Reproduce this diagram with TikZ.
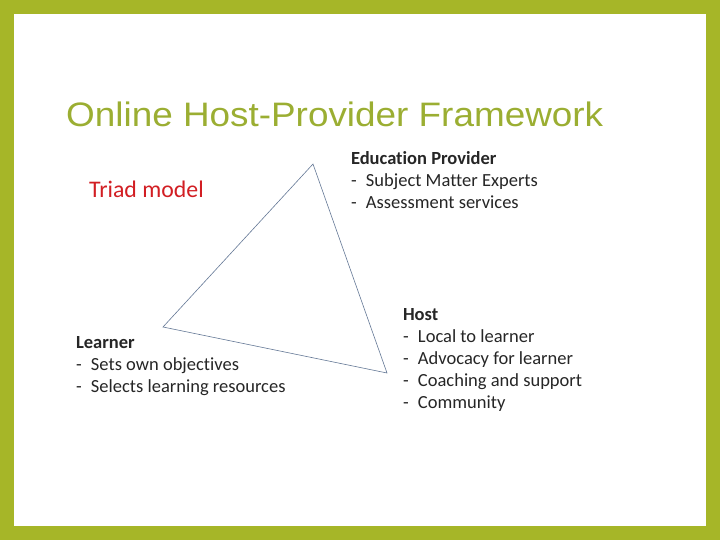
\documentclass[tikz,border=0pt]{standalone}
\usepackage{fontspec}
\setmainfont{Carlito}[Ligatures=NoCommon]
\newfontfamily\titlefont{Liberation Sans}
\definecolor{frame}{RGB}{166,182,40}
\definecolor{titlegreen}{RGB}{155,174,50}
\definecolor{triad}{RGB}{210,30,35}
\definecolor{edge}{RGB}{100,120,150}
\tikzset{
  roletext/.style={anchor=base west, inner sep=0pt, outer sep=0pt, align=left,
    font=\fontsize{18.5pt}{22pt}\selectfont, text=black!85},
  side/.style={draw=edge, line width=0.6pt, line join=miter}
}
\newcommand{\itm}[1]{\makebox[15pt][l]{-}#1}
\begin{document}
\begin{tikzpicture}[x=1pt,y=-1pt]
  \useasboundingbox (0,0) rectangle (720,540);
  \fill[frame] (0,0) rectangle (720,540);
  \fill[white] (14,14) rectangle (706,526);
  \node[anchor=base west, inner sep=0pt, text=titlegreen] (title) at (66,127)
    {\scalebox{1}[0.92]{\resizebox{537pt}{!}{\titlefont\fontsize{33pt}{36pt}\selectfont Online Host-Provider Framework}}};
  \node[anchor=base west, inner sep=0pt, text=triad, font=\fontsize{23.8pt}{26pt}\selectfont] (triad) at (89,198) {Triad model};
  \coordinate (prov) at (313,164);
  \coordinate (learn) at (163,327);
  \coordinate (host) at (387,373);
  \draw[side] (prov) -- (learn) -- (host) -- cycle;
  % anchor at the baseline of the last line
  \node[roletext] (provtext) at (351,209)
    {\textbf{Education Provider}\\ \itm{Subject Matter Experts}\\ \itm{Assessment services}};
  \node[roletext] (learntext) at (76,392)
    {\textbf{Learner}\\ \itm{Sets own objectives}\\ \itm{Selects learning resources}};
  \node[roletext] (hosttext) at (403,408)
    {\textbf{Host}\\ \itm{Local to learner}\\ \itm{Advocacy for learner}\\ \itm{Coaching and support}\\ \itm{Community}};
\end{tikzpicture}
\end{document}
